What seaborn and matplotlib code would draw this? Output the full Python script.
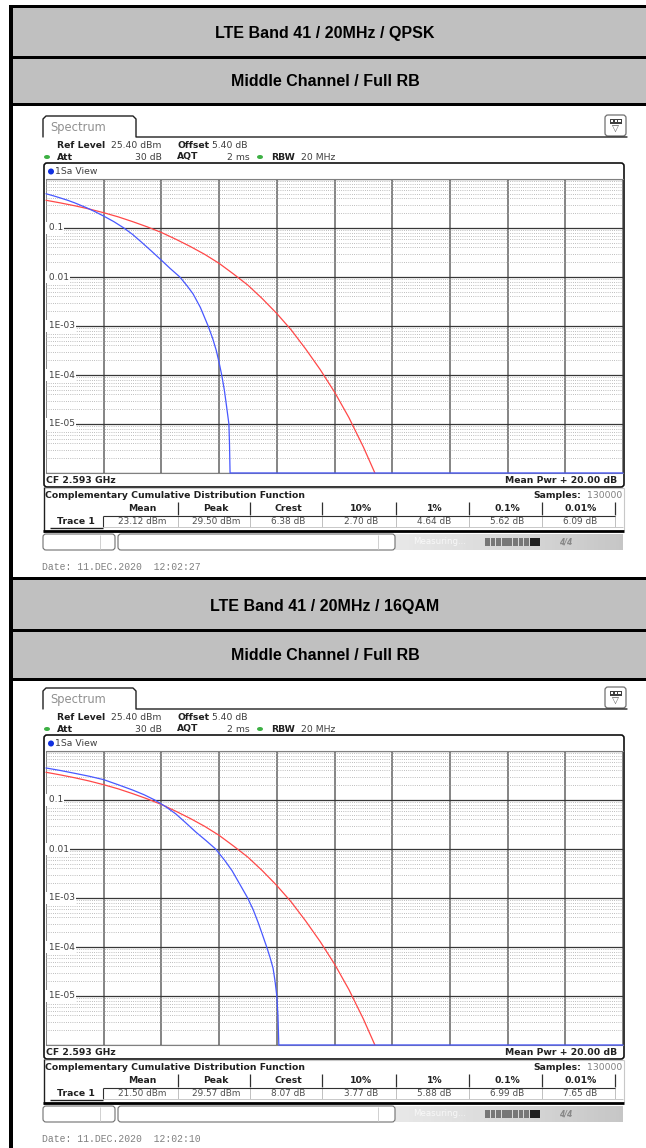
import numpy as np
import pandas as pd
import seaborn as sns
import matplotlib.pyplot as plt
from matplotlib.patches import Rectangle, FancyBboxPatch, Ellipse, Circle
from matplotlib.ticker import LogLocator, FixedLocator, NullFormatter
from matplotlib.transforms import blended_transform_factory

W, H = 646, 1148

titles = ["LTE Band 41 / 20MHz / QPSK", "LTE Band 41 / 20MHz / 16QAM"]
subtitle = "Middle Channel / Full RB"
dates = ["Date: 11.DEC.2020  12:02:27", "Date: 11.DEC.2020  12:02:10"]

# statistics table under each trace
stat_cols = ["Mean", "Peak", "Crest", "10%", "1%", "0.1%", "0.01%"]
stats_qpsk = ["23.12 dBm", "29.50 dBm", "6.38 dB", "2.70 dB", "4.64 dB", "5.62 dB", "6.09 dB"]
stats_16qam = ["21.50 dBm", "29.57 dBm", "8.07 dB", "3.77 dB", "5.88 dB", "6.99 dB", "7.65 dB"]

qpsk_db = [0, 0.25, 0.5, 0.75, 1.0, 1.4, 1.7, 2.0, 2.35, 2.7, 3.0, 3.3, 3.65, 4.0, 4.3,
           4.64, 4.9, 5.1, 5.35, 5.62, 5.78, 5.9, 6.0, 6.09, 6.18, 6.25, 6.3, 6.34, 6.36,
           6.38, 20]
qpsk_p = [0.50, 0.455, 0.41, 0.368, 0.325, 0.26, 0.215, 0.175, 0.135, 0.10, 0.074, 0.052,
          0.034, 0.022, 0.015, 0.01, 0.0065, 0.0045, 0.0024, 0.001, 5.5e-4, 3.2e-4, 1.8e-4,
          1e-4, 5e-5, 2.5e-5, 1.5e-5, 1e-5, 4e-6, 1e-6, 1e-6]
qam_db = [0, 0.5, 1, 1.5, 2, 2.5, 3, 3.4, 3.77, 4.15, 4.5, 4.85, 5.2, 5.55, 5.88, 6.2,
          6.45, 6.72, 6.99, 7.18, 7.35, 7.5, 7.65, 7.77, 7.87, 7.94, 8.0, 8.04, 8.07, 20]
qam_p = [0.45, 0.40, 0.35, 0.305, 0.26, 0.205, 0.16, 0.128, 0.10, 0.073, 0.052, 0.034,
         0.022, 0.0148, 0.01, 0.0058, 0.0036, 0.0019, 0.001, 5.8e-4, 3.2e-4, 1.8e-4, 1e-4,
         6e-5, 3.7e-5, 2e-5, 1e-5, 4e-6, 1e-6, 1e-6]
# gaussian reference trace (red)
ref_db = [0, 0.5, 1, 1.5, 2, 2.5, 3, 3.5, 4, 4.5, 5, 5.5, 6, 6.5, 7, 7.5, 8, 8.5, 9, 9.5,
          10, 10.5, 11, 11.4]
ref_p = [0.368, 0.325, 0.284, 0.244, 0.205, 0.169, 0.135, 0.106, 0.081, 0.059, 0.042, 0.029,
         0.019, 0.0115, 0.0068, 0.0036, 0.0018, 8.3e-4, 3.4e-4, 1.3e-4, 4.5e-5, 1.35e-5,
         3.4e-6, 1e-6]

ytick_vals = [0.1, 0.01, 1e-3, 1e-4, 1e-5]
ytick_labels = ["0.1", "0.01", "1E-03", "1E-04", "1E-05"]

sns.set_theme(style="white")
plt.rcParams['font.family'] = ['DejaVu Sans']

fig = plt.figure(figsize=(W / 100, H / 100), dpi=100)
bg = fig.add_axes([0, 0, 1, 1])
bg.set_xlim(0, W)
bg.set_ylim(H, 0)
bg.axis("off")

FS = 6.7
SCR = dict(fontsize=FS, color="#404040")
BOLD = dict(fontsize=FS, color="#202020", fontweight="bold")


def rect(x0, y0, x1, y1, **kw):
    bg.add_patch(Rectangle((x0, y0), x1 - x0, y1 - y0, **kw))


def hline(y, x0, x1, **kw):
    bg.plot([x0, x1], [y, y], solid_capstyle="butt", **kw)


def vline(x, y0, y1, **kw):
    bg.plot([x, x], [y0, y1], solid_capstyle="butt", **kw)


# page borders and header bands
rect(9, 5, 13, H, fc="black", ec="none")
for top in [5, 577]:
    rect(9, top, W, top + 3, fc="black", ec="none")
bands = [(8, 56, 59, 103, 106), (580, 629, 632, 678, 681)]
for (b0, b1, b2, b3, b4), title in zip(bands, titles):
    rect(13, b0, W, b1, fc="#c0c0c0", ec="none")
    rect(13, b1, W, b2, fc="black", ec="none")
    rect(13, b2, W, b3, fc="#c0c0c0", ec="none")
    rect(13, b3, W, b4, fc="black", ec="none")
    bg.text(325, (b0 + b1) / 2 + 1.5, title, ha="center", va="center",
            family="Liberation Sans", fontweight="bold", fontsize=11.5, color="black")
    bg.text(325, (b2 + b3) / 2 + 1, subtitle, ha="center", va="center",
            family="Liberation Sans", fontweight="bold", fontsize=11.5, color="black")


def draw_screen(off, stats, date, meas_db, meas_p):
    y = lambda v: v + off
    # tab
    tx = [43, 43, 46, 133, 136, 136, 627]
    ty = [137, 119, 116, 116, 119, 137, 137]
    bg.plot(tx, [y(v) for v in ty], color="#202020", lw=1.0)
    bg.text(50, y(127), "Spectrum", fontsize=8.3, color="#909090", va="center")
    # icon
    bg.add_patch(FancyBboxPatch((605, y(115)), 21, 21, boxstyle="round,pad=0,rounding_size=3",
                                fc="white", ec="#707070", lw=0.9))
    rect(609.5, y(119), 621.5, y(123.5), fc="#404040", ec="none")
    for k in range(3):
        rect(611 + k * 3.7, y(120.2), 613.2 + k * 3.7, y(122.3), fc="white", ec="none")
    bg.text(615.5, y(129.5), "\u25bd", fontsize=6.5, ha="center", va="center", color="#505050")
    # settings
    bg.text(57, y(145), "Ref Level", va="center", **BOLD)
    bg.text(111, y(145), "25.40 dBm", va="center", **SCR)
    bg.text(177, y(145), "Offset", va="center", **BOLD)
    bg.text(212, y(145), "5.40 dB", va="center", **SCR)
    bg.text(57, y(157), "Att", va="center", **BOLD)
    bg.text(162, y(157), "30 dB", va="center", ha="right", **SCR)
    bg.text(177, y(157), "AQT", va="center", **BOLD)
    bg.text(250, y(157), "2 ms", va="center", ha="right", **SCR)
    bg.text(271, y(157), "RBW", va="center", **BOLD)
    bg.text(301, y(157), "20 MHz", va="center", **SCR)
    for gx in [47, 260]:
        bg.add_patch(Ellipse((gx, y(157)), 6, 4, fc="#3cb043", ec="none"))
    # plot frame
    bg.add_patch(FancyBboxPatch((44, y(163)), 580, 324, boxstyle="round,pad=0,rounding_size=3",
                                fc="white", ec="#101010", lw=1.2))
    bg.add_patch(Circle((51, y(171.5)), 3, fc="#1030e0", ec="none"))
    bg.text(55, y(171.5), "1Sa View", va="center", **SCR)
    bg.text(46, y(480.5), "CF 2.593 GHz", va="center", **BOLD)
    bg.text(617, y(480.5), "Mean Pwr + 20.00 dB", va="center", ha="right", **BOLD)
    # lower statistics panel
    vline(623.5, y(488), y(530), color="#c8c8c8", lw=0.8)
    hline(y(488), 44, 624, color="#c8c8c8", lw=0.8)
    vline(43.5, y(487), y(532), color="#202020", lw=1.0)
    bg.text(45, y(495), "Complementary Cumulative Distribution Function", va="center", **BOLD)
    bg.text(622, y(495), "130000", va="center", ha="right", fontsize=FS, color="#808080")
    bg.text(581, y(495), "Samples:", va="center", ha="right", **BOLD)
    edges = [103, 178, 250, 322, 396, 469, 542, 615]
    for i, (col, val) in enumerate(zip(stat_cols, stats)):
        cx = (edges[i] + edges[i + 1]) / 2 + 2
        bg.text(cx, y(508.5), col, ha="center", va="center", **BOLD)
        bg.text(cx, y(521), val, ha="center", va="center", fontsize=6.4, color="#505050")
    for ex in edges[1:]:
        vline(ex, y(502), y(515), color="#303030", lw=0.9)
        vline(ex, y(515), y(527), color="#c0c0c0", lw=0.7)
    hline(y(515.5), 103, 615, color="#303030", lw=0.8)
    vline(103, y(515.5), y(527), color="#303030", lw=0.8)
    hline(y(527), 103, 623, color="#c8c8c8", lw=0.7)
    hline(y(527.5), 50, 103, color="#202020", lw=1.0)
    bg.text(76, y(521), "Trace 1", ha="center", va="center", **BOLD)
    hline(y(531), 43, 624, color="black", lw=2.0)
    # status bar
    for x0, x1, dv in [(43, 115, 100), (118, 395, 378)]:
        bg.add_patch(FancyBboxPatch((x0, y(534)), x1 - x0, 16, boxstyle="round,pad=0,rounding_size=3",
                                    fc="white", ec="#707070", lw=0.8))
        vline(dv, y(535), y(549), color="#d0d0d0", lw=0.7)
    grad = np.linspace(0, 1, 64).reshape(1, -1)
    bg.imshow(grad, extent=(395, 623, y(550), y(534)), cmap="Greys", vmin=-1, vmax=5,
              aspect="auto", zorder=0.5)
    bg.text(413, y(542), "Measuring...", va="center", fontsize=6.2, color="#f8f8f8")
    for k in range(10):
        rect(485 + k * 5.6, y(538), 485 + k * 5.6 + 4.8, y(546),
             fc="#202020" if k >= 8 else "#777777", ec="none")
    bg.text(566, y(542), "4/4", va="center", ha="center", fontsize=5.5, color="#888888",
            fontweight="bold", style="italic")
    bg.text(42, y(567), date, va="center", fontsize=7, color="#808080", family="Liberation Mono")

    # trace axes
    left, top, right, bottom = 46, y(179), 623, y(473)
    ax = fig.add_axes([left / W, 1 - bottom / H, (right - left) / W, (bottom - top) / H])
    ax.set_facecolor("white")
    df = pd.concat([
        pd.DataFrame({"dB": ref_db, "p": ref_p, "trace": "ref"}),
        pd.DataFrame({"dB": meas_db, "p": meas_p, "trace": "meas"}),
    ])
    ax.set_yscale("log")
    sns.lineplot(data=df, x="dB", y="p", hue="trace", palette={"ref": "#ff4848", "meas": "#4858ff"},
                 estimator=None, sort=False, legend=False, lw=0.9, ax=ax)
    for ln in ax.lines:
        ln.set_clip_on(False)
        ln.set_zorder(3)
    ax.set_xlim(0, 20)
    ax.set_ylim(1e-6, 1)
    ax.xaxis.set_major_locator(FixedLocator(np.arange(0, 21, 2)))
    ax.yaxis.set_major_locator(FixedLocator([10.0 ** -k for k in range(7)]))
    ax.yaxis.set_minor_locator(LogLocator(base=10, subs=np.arange(2, 10), numticks=20))
    ax.yaxis.set_minor_formatter(NullFormatter())
    ax.grid(which="major", axis="x", color="#707070", lw=1.2)
    ax.grid(which="major", axis="y", color="#383838", lw=0.9)
    ax.grid(which="minor", axis="y", color="#a8a8a8", lw=0.6, linestyle=(0, (1, 1.6)))
    ax.tick_params(which="both", length=0, labelleft=False, labelbottom=False)
    ax.set_xlabel("")
    ax.set_ylabel("")
    for s in ["top", "bottom"]:
        ax.spines[s].set_color("#808080")
        ax.spines[s].set_linewidth(0.8)
    for s in ["left", "right"]:
        ax.spines[s].set_visible(False)
    tr = blended_transform_factory(ax.transAxes, ax.transData)
    for v, lab in zip(ytick_vals, ytick_labels):
        ax.text(0.0, v, " " + lab, transform=tr, va="center", ha="left", fontsize=6.5, color="#404040",
                bbox=dict(fc="white", ec="none", pad=0.8), zorder=4)


draw_screen(0, stats_qpsk, dates[0], qpsk_db, qpsk_p)
draw_screen(572, stats_16qam, dates[1], qam_db, qam_p)

fig.savefig("out.png", dpi=100)
